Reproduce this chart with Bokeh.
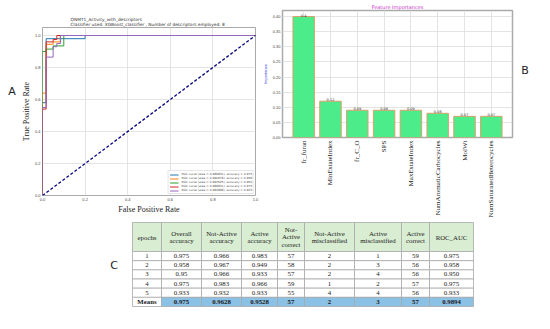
from bokeh.plotting import figure
from bokeh.models import ColumnDataSource, Range1d, FixedTicker, Legend, LegendItem
from bokeh.layouts import column, row
from bokeh.embed import file_html
from bokeh.resources import INLINE
from bokeh.core.properties import value

# ---------------- Panel A data (ROC curves) ----------------
roc_labels = [
    "ROC curve (area = 0.989831), accuracy = 0.975",
    "ROC curve (area = 0.990678), accuracy = 0.958",
    "ROC curve (area = 0.993525), accuracy = 0.950",
    "ROC curve (area = 0.989831), accuracy = 0.975",
    "ROC curve (area = 0.983898), accuracy = 0.933",
]
roc_colors = ["#1f77b4", "#ff7f0e", "#2ca02c", "#d62728", "#9467bd"]
fpr_1 = [0, 0, 0.017, 0.017, 0.2, 0.2, 1]
tpr_1 = [0, 0.58, 0.58, 0.98, 0.98, 1, 1]
fpr_2 = [0, 0, 0.017, 0.017, 0.05, 0.05, 0.083, 0.083, 1]
tpr_2 = [0, 0.64, 0.64, 0.945, 0.945, 0.96, 0.96, 1, 1]
fpr_3 = [0, 0, 0.017, 0.017, 0.05, 0.05, 0.1, 0.1, 1]
tpr_3 = [0, 0.90, 0.90, 0.915, 0.915, 0.935, 0.935, 1, 1]
fpr_4 = [0, 0, 0.017, 0.017, 0.05, 0.05, 0.067, 0.067, 1]
tpr_4 = [0, 0.54, 0.54, 0.96, 0.96, 0.975, 0.975, 1, 1]
fpr_5 = [0, 0, 0.017, 0.017, 0.05, 0.05, 0.067, 0.067, 0.085, 0.085, 1]
tpr_5 = [0, 0.55, 0.55, 0.865, 0.865, 0.93, 0.93, 0.95, 0.95, 1, 1]
roc_fpr = [fpr_1, fpr_2, fpr_3, fpr_4, fpr_5]
roc_tpr = [tpr_1, tpr_2, tpr_3, tpr_4, tpr_5]
diag_x = [0, 1]
diag_y = [0, 1]
roc_ticks = [0.0, 0.2, 0.4, 0.6, 0.8, 1.0]

# ---------------- Panel B data (feature importances) ----------------
features = ["fr_furan", "MinEstateIndex", "fr_C_O", "SPS", "MaxEstateIndex",
            "NumAromaticCarbocycles", "MolWt", "NumSaturatedHeterocycles"]
importances = [0.4, 0.12, 0.09, 0.09, 0.09, 0.08, 0.07, 0.07]
importance_labels = ["0.4", "0.12", "0.09", "0.09", "0.09", "0.08", "0.07", "0.07"]
imp_ticks = [0.0, 0.05, 0.10, 0.15, 0.20, 0.25, 0.30, 0.35, 0.40]

# ---------------- Panel C data (table) ----------------
headers = ["epochs", "Overall\naccuracy", "Not-Active\naccuracy", "Active\naccuracy",
           "Not-\nActive\ncorrect", "Not-Active\nmisclassified", "Active\nmisclassified",
           "Active\ncorrect", "ROC_AUC"]
epochs = ["1", "2", "3", "4", "5", "Means"]
overall_acc = ["0.975", "0.958", "0.95", "0.975", "0.933", "0.975"]
notactive_acc = ["0.966", "0.967", "0.966", "0.983", "0.932", "0.9628"]
active_acc = ["0.983", "0.949", "0.933", "0.966", "0.933", "0.9528"]
notactive_correct = ["57", "58", "57", "59", "55", "57"]
notactive_mis = ["2", "2", "2", "1", "4", "2"]
active_mis = ["1", "3", "4", "2", "4", "3"]
active_correct = ["59", "56", "56", "57", "56", "57"]
roc_auc = ["0.975", "0.958", "0.950", "0.975", "0.933", "0.9894"]
table_cols = [epochs, overall_acc, notactive_acc, active_acc, notactive_correct,
              notactive_mis, active_mis, active_correct, roc_auc]

SANS = "DejaVu Sans"
SERIF = "Liberation Serif"


def no_align(p):
    if "frame_align" in p.properties():
        p.frame_align = False


def letter_fig(width, height, xpos, ypos, letter):
    p = figure(width=width, height=height, x_range=Range1d(0, width), y_range=Range1d(height, 0),
               output_backend="svg", toolbar_location=None,
               min_border_left=0, min_border_right=0, min_border_top=0, min_border_bottom=0)
    no_align(p)
    p.axis.visible = False
    p.grid.visible = False
    p.outline_line_color = None
    p.text(x=[xpos], y=[ypos], text=[letter], text_align="center", text_baseline="middle",
           text_font_size="11px", text_color="#222222", text_font=value(SANS))
    return p


# ================= Panel A =================
pLA = letter_fig(16, 220, 11.6, 91, "A")
pA = figure(width=243, height=220, x_range=Range1d(0, 1), y_range=Range1d(0, 1.05),
            output_backend="svg", toolbar_location=None,
            min_border_left=26, min_border_right=4, min_border_top=27, min_border_bottom=25)
no_align(pA)
pA.title.text = "QNMT1_Activity_with_descriptors\nClassifier used:  XGBoost_classifier , Number of descriptors employed:  8"
pA.title.align = "center"
pA.title.text_font_size = "4.3px"
pA.title.text_font_style = "normal"
pA.title.text_font = SANS
pA.title.text_color = "#333333"
pA.title.standoff = 1
pA.title.text_line_height = 1.1
pA.outline_line_color = "#aaaaaa"
pA.outline_line_width = 1
for ax in (pA.xaxis[0], pA.yaxis[0]):
    ax.ticker = FixedTicker(ticks=roc_ticks)
    ax.major_label_overrides = {t: f"{t:.1f}" for t in roc_ticks}
    ax.axis_line_color = None
    ax.major_tick_line_color = None
    ax.minor_tick_line_color = None
    ax.major_tick_out = 0
    ax.minor_tick_out = 0
    ax.major_label_text_font_size = "4px"
    ax.major_label_text_color = "#444444"
    ax.major_label_standoff = 2
    ax.axis_label_text_font = SERIF
    ax.axis_label_text_font_size = "8px"
    ax.axis_label_text_font_style = "normal"
    ax.axis_label_text_color = "#222222"
    ax.axis_label_standoff = 1
pA.xaxis.axis_label = "False Positive Rate"
pA.yaxis.axis_label = "True Positive Rate"
pA.grid.grid_line_color = "#dddddd"
pA.grid.grid_line_width = 0.8

items = []
for fx, ty, col, lab in zip(roc_fpr, roc_tpr, roc_colors, roc_labels):
    r = pA.line(fx, ty, color=col, line_width=1)
    items.append(LegendItem(label=lab, renderers=[r]))
pA.line(diag_x, diag_y, color="navy", line_width=1.3, line_dash="3 2")
leg = Legend(items=items, location="bottom_right", label_text_font_size="2.9px",
             label_text_font=SANS, label_height=3, glyph_height=3, glyph_width=9,
             spacing=0, padding=1, margin=1, label_standoff=3,
             border_line_color="#cccccc", background_fill_alpha=0.9)
pA.add_layout(leg)

# ================= Panel B =================
pB = figure(width=261, height=220, x_range=Range1d(-0.79, 7.79), y_range=Range1d(0, 0.42),
            output_backend="svg", toolbar_location=None,
            min_border_left=14, min_border_right=8, min_border_top=10, min_border_bottom=81)
no_align(pB)
pB.title.text = "Feature Importances"
pB.title.align = "center"
pB.title.text_font_size = "5px"
pB.title.text_font_style = "normal"
pB.title.text_font = SANS
pB.title.text_color = "#cc33cc"
pB.title.standoff = 1
pB.outline_line_color = "#aaaaaa"
pB.outline_line_width = 1.5
pB.grid.grid_line_color = "#dddddd"
pB.grid.grid_line_width = 0.8
xb = list(range(len(features)))
pB.xaxis.ticker = FixedTicker(ticks=xb)
pB.xaxis.major_label_overrides = {i: f for i, f in enumerate(features)}
pB.xaxis.major_label_orientation = 3.14159265 / 2
pB.xaxis.major_label_text_font = SERIF
pB.xaxis.major_label_text_font_size = "7px"
pB.xaxis.major_label_text_color = "#222222"
pB.xaxis.major_label_standoff = 3
pB.yaxis.ticker = FixedTicker(ticks=imp_ticks)
pB.yaxis.major_label_overrides = {t: f"{t:.2f}" for t in imp_ticks}
pB.yaxis.major_label_text_font_size = "4px"
pB.yaxis.major_label_text_color = "#444444"
pB.yaxis.major_label_standoff = 2
pB.yaxis.axis_label = "Importance"
pB.yaxis.axis_label_text_font_size = "4px"
pB.yaxis.axis_label_text_font_style = "normal"
pB.yaxis.axis_label_text_color = "#3333ee"
pB.yaxis.axis_label_standoff = 2
for ax in (pB.xaxis[0], pB.yaxis[0]):
    ax.axis_line_color = None
    ax.major_tick_line_color = None
    ax.minor_tick_line_color = None
    ax.major_tick_out = 0
    ax.minor_tick_out = 0
srcB = ColumnDataSource(dict(x=xb, top=importances, lab=importance_labels))
pB.vbar(x="x", top="top", width=0.8, source=srcB, fill_color="#4cec8a",
        line_color="#d9a06b", line_width=1)
pB.text(x="x", y="top", text="lab", source=srcB, text_align="center",
        text_baseline="bottom", text_font_size="3.5px", text_color="#333333",
        text_font=value(SANS))
pLB = letter_fig(14, 220, 4.5, 69.5, "B")

# ================= Panel C (table) =================
pC = figure(width=534, height=93, x_range=Range1d(0, 534), y_range=Range1d(313, 220),
            output_backend="svg", toolbar_location=None,
            min_border_left=0, min_border_right=0, min_border_top=0, min_border_bottom=0)
no_align(pC)
pC.axis.visible = False
pC.grid.visible = False
pC.outline_line_color = None
col_edges = [132, 161, 201, 241, 277, 304, 354, 401, 429, 473]
head_top, head_bot, tab_bot = 222, 251, 306
row_h = (tab_bot - head_bot) / len(epochs)
cells = dict(l=[], r=[], t=[], b=[], fill=[], xc=[], yc=[], txt=[], style=[])
for c in range(len(headers)):
    cells["l"].append(col_edges[c]); cells["r"].append(col_edges[c + 1])
    cells["t"].append(head_top); cells["b"].append(head_bot)
    cells["fill"].append("#d9edd3")
    cells["xc"].append((col_edges[c] + col_edges[c + 1]) / 2)
    cells["yc"].append((head_top + head_bot) / 2)
    cells["txt"].append(headers[c]); cells["style"].append("normal")
for r_i in range(len(epochs)):
    top = head_bot + r_i * row_h
    is_mean = epochs[r_i] == "Means"
    for c in range(len(headers)):
        cells["l"].append(col_edges[c]); cells["r"].append(col_edges[c + 1])
        cells["t"].append(top); cells["b"].append(top + row_h)
        cells["fill"].append("#8cc1e6" if (is_mean and c > 0) else "#ffffff")
        cells["xc"].append((col_edges[c] + col_edges[c + 1]) / 2)
        cells["yc"].append(top + row_h / 2)
        cells["txt"].append(table_cols[c][r_i])
        cells["style"].append("bold" if is_mean else "normal")
srcC = ColumnDataSource(cells)
pC.quad(left="l", right="r", top="t", bottom="b", fill_color="fill", line_color="#a8a8a8",
        line_width=0.8, source=srcC)
pC.text(x="xc", y="yc", text="txt", text_font_style="style", source=srcC,
        text_align="center", text_baseline="middle", text_font_size="6.8px",
        text_line_height=1.05, text_color="#1a1a1a", text_font=value(SERIF))
pC.text(x=[113.6], y=[265.4], text=["C"], text_align="center", text_baseline="middle",
        text_font_size="11px", text_color="#222222", text_font=value(SANS))

layout = column(row(column(pLA), column(pA), column(pB), column(pLB)), pC)
open("out.html", "w").write(file_html(layout, INLINE))
